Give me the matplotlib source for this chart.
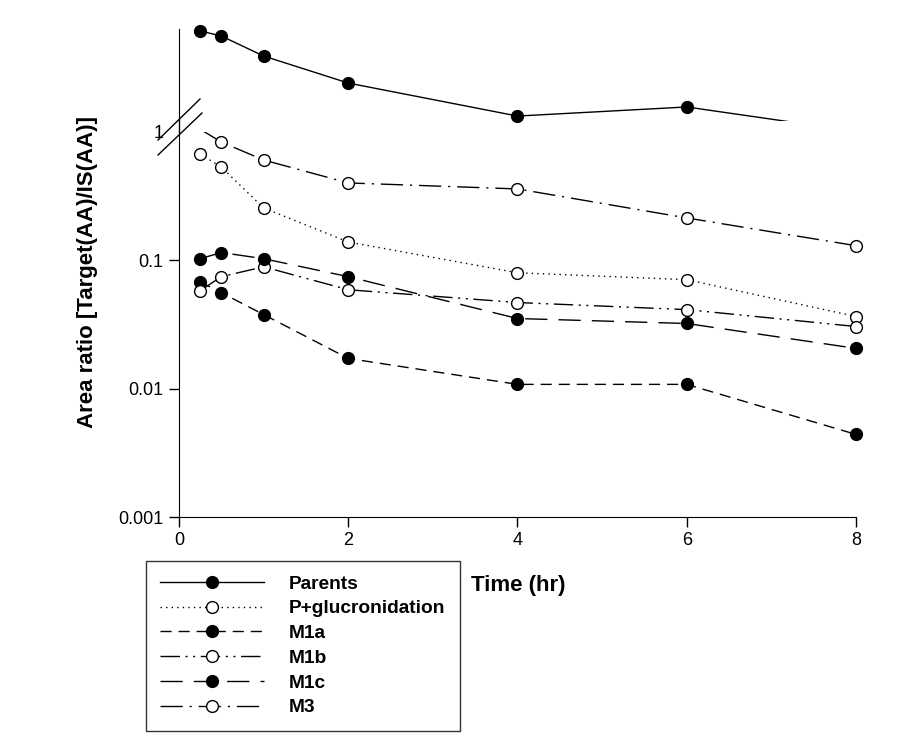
import matplotlib
matplotlib.use('Agg')
import matplotlib.pyplot as plt
from matplotlib.lines import Line2D

plt.rcParams['font.family'] = ['Liberation Sans', 'DejaVu Sans']

# time points (hr)
times = [0.25, 0.5, 1, 2, 4, 6, 8]

# parent compound (upper, broken part of the axis; no scale shown)
parents = [9.83, 9.39, 7.65, 5.30, 2.43, 3.22, 1.10]

# metabolites (lower log part)
p_gluc = [0.673, 0.533, 0.256, 0.139, 0.080, 0.0707, 0.0365]
m1a = [0.068, 0.056, 0.0378, 0.0172, 0.0108, 0.0108, 0.0044]
m1b = [0.058, 0.0746, 0.089, 0.059, 0.0469, 0.0413, 0.0305]
m1c = [0.103, 0.115, 0.103, 0.0746, 0.0352, 0.0322, 0.0206]
m3 = [1.05, 0.835, 0.605, 0.401, 0.360, 0.214, 0.130]

W, H = 912, 747


def fx(px):
    return px / W


def fy(py):
    return 1 - py / H


fig = plt.figure(figsize=(W / 100, H / 100), dpi=100)

# lower axis (log)
ax = fig.add_axes([fx(179), fy(517), fx(856) - fx(179), fy(132) - fy(517)])
# upper axis (parents)
axu = fig.add_axes([fx(179), fy(121), fx(856) - fx(179), fy(29) - fy(121)])

ms = 8.5
lw = 1.0


def draw(a, vals, ls, face, lo, hi):
    # line is clipped at the axis edge, markers only where the value is in range
    a.plot(times, vals, color='black', lw=lw, ls=ls)
    keep = [i for i, v in enumerate(vals) if lo <= v <= hi]
    a.plot([times[i] for i in keep], [vals[i] for i in keep], ls='none',
           marker='o', ms=ms, mfc=face, mec='black', mew=1, clip_on=False)


draw(axu, parents, '-', 'black', 2, 10)
axu.set_xlim(0, 8)
axu.set_ylim(2, 10)
axu.set_xticks([])
axu.set_yticks([])
for s in ['top', 'right', 'bottom']:
    axu.spines[s].set_visible(False)
axu.patch.set_alpha(0)

series = [
    ('Parents', None, '-', 'black'),
    ('P+glucronidation', p_gluc, (0, (1, 3)), 'white'),
    ('M1a', m1a, (0, (8, 5)), 'black'),
    ('M1b', m1b, (0, (14, 4, 1.5, 4, 1.5, 4)), 'white'),
    ('M1c', m1c, (0, (16, 8)), 'black'),
    ('M3', m3, (0, (16, 5, 1.5, 5)), 'white'),
]

handles = []
for name, vals, ls, face in series:
    if vals is not None:
        draw(ax, vals, ls, face, 0.001, 1)
    handles.append(Line2D([], [], color='black', lw=lw, ls=ls, marker='o',
                          ms=ms, mfc=face, mec='black', mew=1))

ax.set_yscale('log')
ax.set_xlim(0, 8)
ax.set_ylim(0.001, 1)
ax.set_xticks([0, 2, 4, 6, 8])
ax.set_yticks([0.001, 0.01, 0.1, 1])
ax.set_yticklabels(['0.001', '0.01', '0.1', '1'])
ax.minorticks_off()
ax.tick_params(direction='out', length=7, width=1, labelsize=13, pad=4)
ax.yaxis.get_major_ticks()[3].tick1line.set_visible(False)
ax.spines['top'].set_visible(False)
ax.spines['right'].set_visible(False)
ax.patch.set_alpha(0)

# spine gap between the two parts + break marks
fig.add_artist(Line2D([fx(179), fx(179)], [fy(121), fy(132)], color='black', lw=1))
fig.add_artist(Line2D([fx(200), fx(158)], [fy(99), fy(140)], color='black', lw=1))
fig.add_artist(Line2D([fx(202), fx(158)], [fy(113), fy(155)], color='black', lw=1))

fig.text(fx(88), fy(272), 'Area ratio [Target(AA)/IS(AA)]', rotation=90,
         ha='center', va='center', fontsize=16, fontweight='bold')
fig.text(fx(518), fy(585), 'Time (hr)', ha='center', va='center',
         fontsize=16, fontweight='bold')

leg = fig.legend(handles, [s[0] for s in series], loc='upper left',
                 bbox_to_anchor=(fx(146), fy(561)), bbox_transform=fig.transFigure,
                 borderaxespad=0, frameon=True, fancybox=False, numpoints=1,
                 handlelength=5.4, handletextpad=1.3, labelspacing=0.38,
                 borderpad=0.75, prop={'weight': 'bold', 'size': 13.8})
leg.get_frame().set_edgecolor('black')
leg.get_frame().set_linewidth(1)

fig.savefig('out.png', dpi=100)
